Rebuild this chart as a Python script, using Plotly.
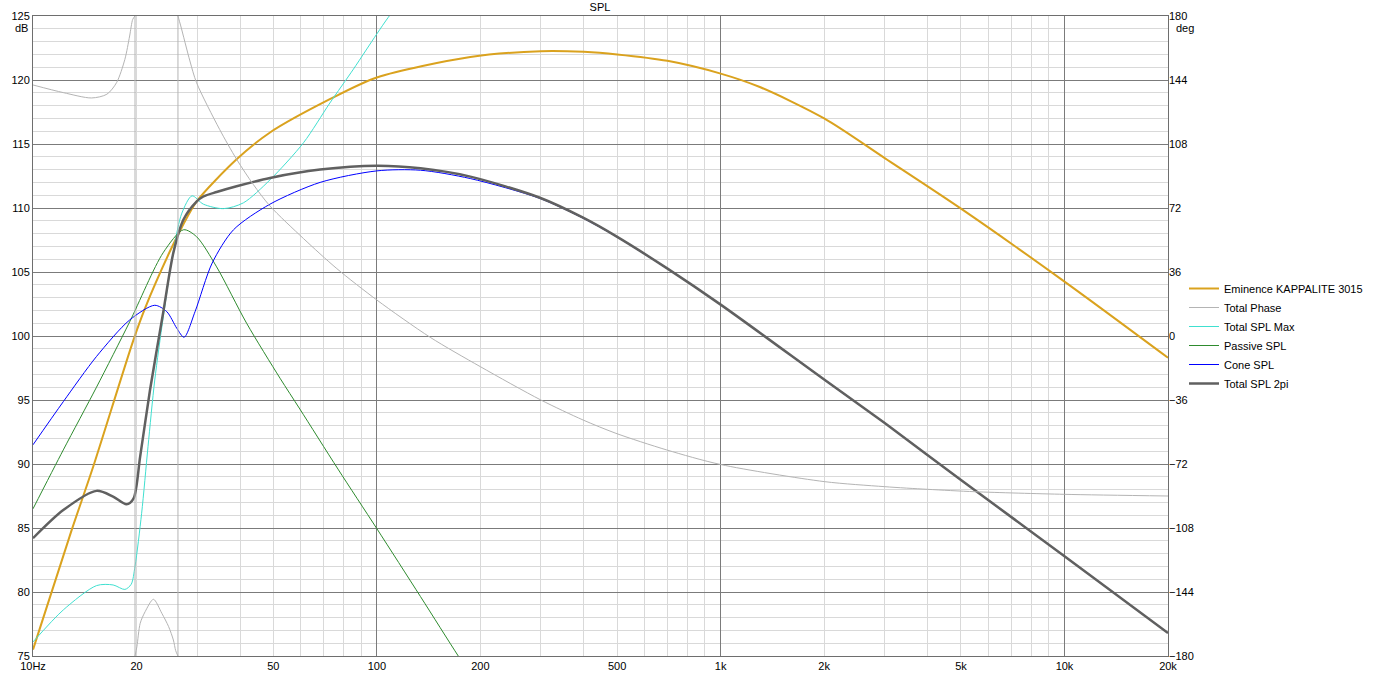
import plotly.graph_objects as go

# ---------------- data ----------------
emin_f = [10, 12.96, 14.97, 19.6, 21.2, 25.0, 27.1, 29.9, 39.1, 48.9, 73, 100, 187, 300, 400, 500, 700, 1000, 1300, 2000, 3000, 5000, 10000, 20000]
emin_db = [75.5, 84.85, 89.8, 99.7, 102.2, 106.6, 108.5, 110.5, 113.8, 115.9, 118.5, 120.2, 121.8, 122.25, 122.2, 122.0, 121.5, 120.5, 119.45, 117.0, 113.9, 109.95, 104.25, 98.3]

# phase: None separates the wrapped segments; the 2-point segments are the wrap jumps
phase_f = [10, 12.25, 14.8, 16.4, 17.5, 18.5, 19.1, 19.5, 19.8, None,
           19.8, 19.8, None,
           19.8, 20.05, 20.5, 21.2, 22.4, 23.7, 24.8, 25.6, 26.0, 26.4, None,
           26.4, 26.4, None,
           26.4, 26.9, 28.6, 29.9, 34.9, 39.1, 43.7, 48.9, 61.2, 76.5, 100, 143, 200, 300, 398, 496, 697, 1000, 2000, 3000, 4000, 5500, 10000, 20000]
phase_deg = [141.2, 136.9, 133.9, 136.0, 142.5, 155.6, 168.75, 178.1, 180, None,
             180, -180, None,
             -180, -174.8, -161.6, -155, -148.1, -156, -163.5, -171, -177, -180, None,
             -180, 180, None,
             180, 174.4, 154.7, 142.5, 116.2, 99.4, 85.3, 73.1, 54.8, 37.9, 20.25, -0.75, -17.25, -36, -47.25, -54.75, -64.1, -72.3, -81.9, -84.75, -86.25, -87.6, -89.06, -90]

max_f = [10, 12.25, 15.3, 17.1, 18.5, 19.3, 19.8, 20.7, 21.6, 22.6, 23.9, 25.7, 27.1, 29.0, 31.3, 35.8, 40.9, 48.9, 61.2, 73.0, 85.5, 100, 108, 118]
max_db = [76.1, 78.6, 80.5, 80.55, 80.2, 80.6, 82.0, 86.15, 91.35, 96.56, 101.4, 106.9, 109.6, 110.95, 110.3, 109.95, 110.4, 112.2, 115.1, 118.2, 120.85, 123.6, 124.9, 126.2]

pas_f = [10, 12.25, 15.3, 19.1, 23.9, 27.4, 29.9, 34.2, 41.8, 52.3, 59.7, 77.1, 100, 133.9, 173, 200]
pas_db = [86.5, 91.1, 96.0, 101.1, 106.5, 108.3, 107.76, 105.4, 101.0, 96.7, 94.3, 89.6, 84.95, 79.65, 74.95, 72.4]

cone_f = [10, 12.25, 15.3, 19.1, 22.6, 24.5, 26.2, 27.5, 29.6, 33.2, 38.3, 48.9, 68.4, 100, 134, 187, 298, 398, 496, 697, 1000, 2000, 3000, 5000, 10000, 20000]
cone_db = [91.5, 94.87, 98.4, 101.25, 102.4, 101.9, 100.6, 99.9, 101.9, 105.7, 108.3, 110.3, 112.0, 112.9, 112.95, 112.3, 110.75, 109.2, 107.78, 105.28, 102.43, 96.58, 93.18, 88.73, 82.78, 76.8]

tot_f = [10, 12.25, 15.3, 17.1, 18.7, 19.6, 20.5, 21.9, 23.9, 25.6, 27.4, 29.9, 31.3, 34.2, 39.1, 48.9, 68.4, 100, 134, 187, 298, 398, 496, 697, 1000, 2000, 3000, 5000, 10000, 20000]
tot_db = [84.2, 86.4, 87.9, 87.45, 86.85, 87.3, 90.6, 95.8, 101.8, 106.5, 109.1, 110.5, 110.9, 111.25, 111.7, 112.35, 113.0, 113.3, 113.1, 112.45, 110.8, 109.24, 107.8, 105.3, 102.45, 96.6, 93.2, 88.75, 82.8, 76.8]

x_tick_vals = [10, 20, 50, 100, 200, 500, 1000, 2000, 5000, 10000, 20000]
x_tick_text = ["10Hz", "20", "50", "100", "200", "500", "1k", "2k", "5k", "10k", "20k"]
x_decades = [10, 100, 1000, 10000]
deg_ticks = [-180, -144, -108, -72, -36, 0, 36, 72, 108, 144, 180]

# ---------------- styling ----------------
FONT = "Liberation Sans, Arial, sans-serif"
DARK_GRID = "#7b7b7b"
LIGHT_GRID = "#d9d9d9"
minor_x = [m * 10 ** e for e in range(1, 4) for m in range(2, 10)] + [20000]
SM = 0.8

fig = go.Figure()

fig.add_trace(go.Scatter(x=emin_f, y=emin_db, name="Eminence KAPPALITE 3015", mode="lines",
                         line=dict(color="#DAA21E", width=2, shape="spline", smoothing=SM)))
fig.add_trace(go.Scatter(x=phase_f, y=phase_deg, name="Total Phase", mode="lines",
                         xaxis="x2", yaxis="y2", connectgaps=False,
                         line=dict(color="#b4b4b4", width=1, shape="spline", smoothing=SM)))
fig.add_trace(go.Scatter(x=max_f, y=max_db, name="Total SPL Max", mode="lines",
                         line=dict(color="#40E0D0", width=1, shape="spline", smoothing=SM)))
fig.add_trace(go.Scatter(x=pas_f, y=pas_db, name="Passive SPL", mode="lines",
                         line=dict(color="#2E8B2E", width=1, shape="spline", smoothing=SM)))
fig.add_trace(go.Scatter(x=cone_f, y=cone_db, name="Cone SPL", mode="lines",
                         line=dict(color="#0000FF", width=1, shape="spline", smoothing=SM)))
fig.add_trace(go.Scatter(x=tot_f, y=tot_db, name="Total SPL 2pi", mode="lines",
                         line=dict(color="#606060", width=2.5, shape="spline", smoothing=SM)))

xrange = [1, 4.30103]

fig.update_layout(
    width=1375, height=675,
    margin=dict(l=33, r=207, t=16, b=19, pad=0, autoexpand=False),
    paper_bgcolor="white", plot_bgcolor="white",
    font=dict(family=FONT, size=11, color="black"),
    title=dict(text="SPL", x=600 / 1375, xref="container", xanchor="center",
               y=1 - 7 / 675, yref="container", yanchor="middle",
               font=dict(family=FONT, size=11, color="black")),
    showlegend=True,
    legend=dict(x=1184 / 1375, xref="container", xanchor="left",
                y=1 - 336 / 675, yref="container", yanchor="middle",
                bgcolor="rgba(0,0,0,0)", borderwidth=0,
                font=dict(family=FONT, size=11, color="black"),
                traceorder="normal", itemwidth=30),
    xaxis=dict(type="log", range=xrange, tickmode="array", tickvals=x_tick_vals, ticktext=x_tick_text,
               showgrid=False, ticks="", showline=True, mirror=True, linecolor="#6e6e6e", linewidth=1,
               zeroline=False, automargin=False, tickfont=dict(family=FONT, size=11, color="black"),
               minor=dict(tickmode="array", tickvals=minor_x, showgrid=True, gridcolor=LIGHT_GRID,
                          gridwidth=1, ticks="")),
    xaxis2=dict(type="log", range=xrange, overlaying="x", anchor="y2", side="bottom",
                tickmode="array", tickvals=x_decades, showticklabels=False, ticks="", automargin=False,
                showgrid=True, gridcolor=DARK_GRID, gridwidth=1, showline=False, zeroline=False),
    yaxis=dict(range=[75, 125], tick0=75, dtick=5, showgrid=True, gridcolor=DARK_GRID, gridwidth=1,
               ticks="", showline=True, mirror=True, linecolor="#6e6e6e", linewidth=1, zeroline=False,
               automargin=False, tickfont=dict(family=FONT, size=11, color="black"),
               minor=dict(dtick=1, showgrid=True, gridcolor=LIGHT_GRID, gridwidth=1, ticks="")),
    yaxis2=dict(range=[-180, 180], overlaying="y", anchor="x2", side="right", tickmode="array",
                tickvals=deg_ticks, showgrid=False, ticks="", zeroline=False, showline=False,
                automargin=False, tickfont=dict(family=FONT, size=11, color="black")),
)

fig.add_annotation(text="dB", xref="paper", yref="paper", x=0, y=1, xanchor="right", yanchor="top",
                   xshift=-3, yshift=-4, showarrow=False, font=dict(family=FONT, size=11, color="black"))
fig.add_annotation(text="deg", xref="paper", yref="paper", x=1, y=1, xanchor="left", yanchor="top",
                   xshift=6, yshift=-4, showarrow=False, font=dict(family=FONT, size=11, color="black"))

# remove the browser's default 8px body margin so the figure fills the window exactly
fig.write_html("out.html", config={"displayModeBar": False},
               post_script="document.body.style.margin='0px';document.body.style.overflow='hidden';")
